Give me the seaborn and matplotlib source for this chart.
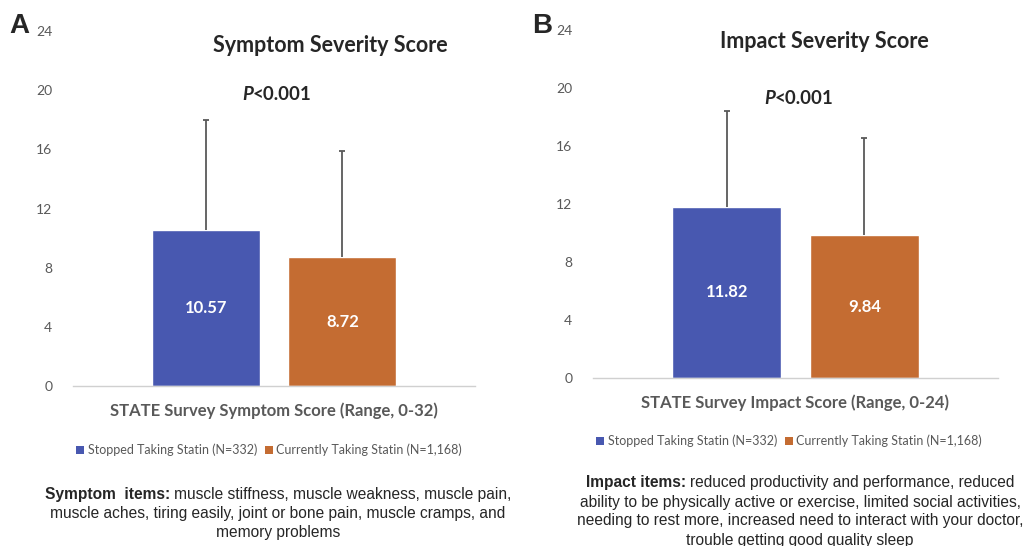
import numpy as np
import pandas as pd
import matplotlib
matplotlib.use("Agg")
import matplotlib.pyplot as plt
from matplotlib.patches import Patch
import seaborn as sns

groups = ["Stopped Taking Statin (N=332)", "Currently Taking Statin (N=1,168)"]
colors = ["#4858B0", "#C46C32"]

symptom_mean = [10.57, 8.72]
symptom_sd = [7.4, 7.15]
impact_mean = [11.82, 9.84]
impact_sd = [6.6, 6.7]

yticks = [0, 4, 8, 12, 16, 20, 24]

sns.set_style("white")
plt.rcParams["font.family"] = ["Lato", "DejaVu Sans"]

W, H = 1027, 546
fig = plt.figure(figsize=(W / 100, H / 100), dpi=100)
GRAY = "#595959"


def px(x, y):
    return x / W, 1 - y / H


def axes_px(x0, x1, ytop, ybot):
    return fig.add_axes([x0 / W, 1 - ybot / H, (x1 - x0) / W, (ybot - ytop) / H])


def panel(ax, means, sds):
    df = pd.DataFrame({"group": groups, "mean": means})
    sns.barplot(data=df, x="group", y="mean", hue="group", palette=colors,
                width=0.79, ax=ax, legend=False, errorbar=None, saturation=1)
    tops = np.array(means) + np.array(sds)
    ax.vlines([0, 1], means, tops, color=GRAY, linewidth=1.3)
    ax.plot([0, 1], tops, linestyle="none", marker="_", markersize=5,
            markeredgewidth=1.3, color=GRAY)
    for i, m in enumerate(means):
        ax.text(i, m / 2, f"{m:.2f}", ha="center", va="center", color="white",
                fontsize=12, fontweight="bold")
    ax.set_ylim(0, 24)
    ax.set_xlim(-0.97, 1.97)
    ax.set_yticks(yticks)
    ax.set_yticklabels([str(t) for t in yticks], color=GRAY, fontsize=10)
    ax.tick_params(axis="y", length=0, pad=15)
    ax.set_xticks([])
    ax.set_xlabel("")
    ax.set_ylabel("")
    for s in ["top", "right", "left"]:
        ax.spines[s].set_visible(False)
    ax.spines["bottom"].set_color("#D0D0D0")
    ax.spines["bottom"].set_linewidth(1)
    ax.patch.set_alpha(0)


axA = axes_px(73, 475, 31, 386)
panel(axA, symptom_mean, symptom_sd)
axB = axes_px(593, 998, 30, 378)
panel(axB, impact_mean, impact_sd)

renderer = fig.canvas.get_renderer()


def two_part(cx, y, a, b, size, fam, style_a, weight_b):
    t1 = fig.text(0, 0, a, fontsize=size, fontweight="bold", fontstyle=style_a, family=fam)
    t2 = fig.text(0, 0, b, fontsize=size, fontweight=weight_b, family=fam)
    w1 = t1.get_window_extent(renderer).width
    w2 = t2.get_window_extent(renderer).width
    left = cx - (w1 + w2) / 2
    t1.set_position(px(left, y))
    t1.set_va("center")
    t2.set_position(px(left + w1, y))
    t2.set_va("center")


# panel letters
fig.text(*px(9, 26), "A", fontsize=20, fontweight="bold", family="Liberation Sans", va="center")
fig.text(*px(532, 26), "B", fontsize=20, fontweight="bold", family="Liberation Sans", va="center")

# titles and p values
fig.text(*px(330, 45), "Symptom Severity Score", ha="center", va="center", fontsize=15.5, fontweight="bold")
fig.text(*px(824, 42), "Impact Severity Score", ha="center", va="center", fontsize=15.5, fontweight="bold")
for x, y in [(277, 95), (799, 99)]:
    two_part(x, y, "P", "<0.001", 13.5, ["Lato", "DejaVu Sans"], "italic", "bold")

# axis labels
fig.text(*px(274, 411), "STATE Survey Symptom Score (Range, 0-32)", ha="center", va="center",
         fontsize=12, fontweight="bold", color=GRAY)
fig.text(*px(795, 403), "STATE Survey Impact Score (Range, 0-24)", ha="center", va="center",
         fontsize=12, fontweight="bold", color=GRAY)

# legends
handles = [Patch(facecolor=c, edgecolor="none", label=g) for c, g in zip(colors, groups)]
for x, y in [(269, 450), (789, 441)]:
    fig.legend(handles=handles, loc="center", bbox_to_anchor=px(x, y), ncol=2, frameon=False,
               handlelength=0.65, handleheight=0.65, handletextpad=0.3, columnspacing=0.6,
               prop={"size": 9}, labelcolor=GRAY)


# item notes
def note(cx, y0, bold, lines, dy=18.5, size=11.2):
    fam = "Liberation Sans"
    two_part(cx, y0, bold + " ", lines[0], size, fam, "normal", "normal")
    for i, line in enumerate(lines[1:], start=1):
        fig.text(*px(cx, y0 + i * dy), line, ha="center", va="center", fontsize=size, family=fam)


note(278, 495, "Symptom  items:",
     ["muscle stiffness, muscle weakness, muscle pain,",
      "muscle aches, tiring easily, joint or bone pain, muscle cramps, and",
      "memory problems"])
note(800, 483, "Impact items:",
     ["reduced productivity and performance, reduced",
      "ability to be physically active or exercise, limited social activities,",
      "needing to rest more, increased need to interact with your doctor,",
      "trouble getting good quality sleep"], dy=19)

fig.savefig("out.png", dpi=100)
